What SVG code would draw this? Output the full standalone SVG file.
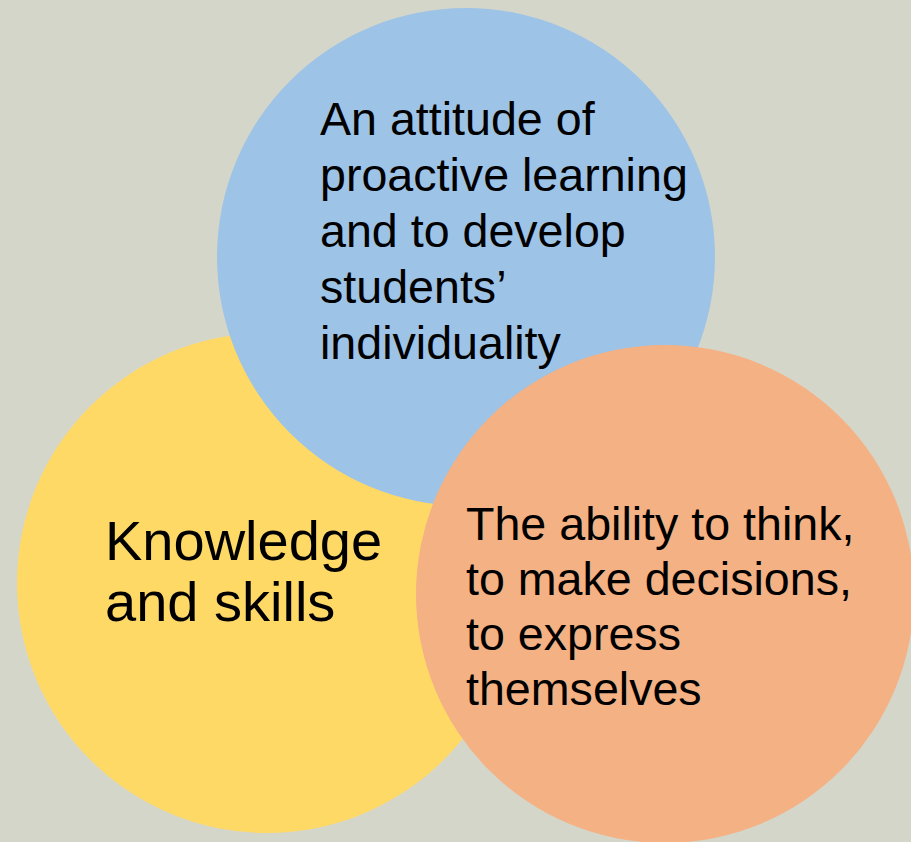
<svg xmlns="http://www.w3.org/2000/svg" width="911" height="842" viewBox="0 0 911 842">
  <style>
    .lbl { font-family: "Liberation Sans", Arial, sans-serif; fill: #000000; }
    .s46 { font-size: 46.6px; }
    .s54 { font-size: 56px; }
  </style>
  <rect x="0" y="0" width="911" height="842" fill="#D5D6CA"/>
  <g id="connectors"></g>
  <g id="knowledge">
    <circle cx="267" cy="583" r="250" fill="#FFD966"/>
    <text class="lbl s54" x="105" y="560">Knowledge</text>
    <text class="lbl s54" x="105" y="621">and skills</text>
  </g>
  <g id="attitude">
    <circle cx="466" cy="257" r="249" fill="#9DC3E6"/>
    <text class="lbl s46" x="320" y="135">An attitude of</text>
    <text class="lbl s46" x="320" y="191">proactive learning</text>
    <text class="lbl s46" x="320" y="247">and to develop</text>
    <text class="lbl s46" x="320" y="303">students’</text>
    <text class="lbl s46" x="320" y="359">individuality</text>
  </g>
  <g id="ability">
    <circle cx="665" cy="594" r="249" fill="#F4B183"/>
    <text class="lbl s46" x="466" y="540">The ability to think,</text>
    <text class="lbl s46" x="466" y="595">to make decisions,</text>
    <text class="lbl s46" x="466" y="650">to express</text>
    <text class="lbl s46" x="466" y="705">themselves</text>
  </g>
</svg>
